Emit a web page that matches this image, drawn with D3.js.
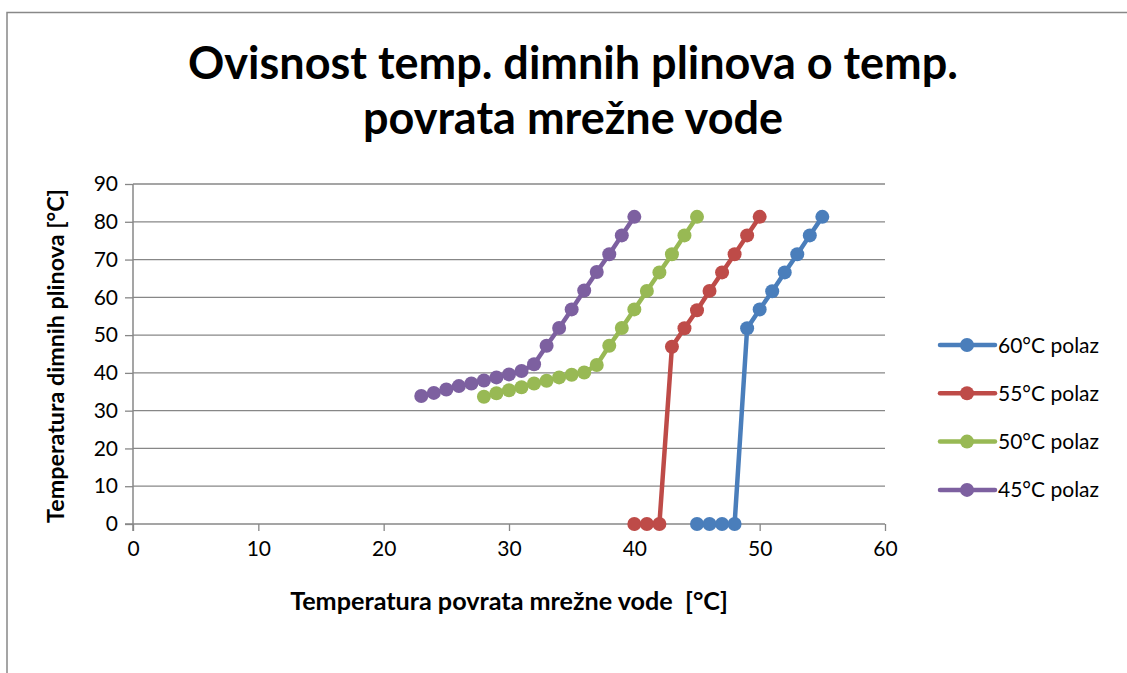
<!DOCTYPE html>
<html>
<head>
<meta charset="utf-8">
<script src="https://cdn.jsdelivr.net/npm/d3@7"></script>
<style>
  html, body { margin: 0; padding: 0; background: #fff; }
  svg { display: block; font-family: Lato, "Open Sans", sans-serif; }
  text { white-space: pre; }
</style>
</head>
<body>
<svg id="chart" width="1127" height="673"></svg>
<script>
// Return water temperature (x) and flue gas temperature (y) for each supply temperature
const x60 = [45, 46, 47, 48, 49, 50, 51, 52, 53, 54, 55];
const y60 = [0, 0, 0, 0, 51.8, 56.8, 61.6, 66.6, 71.4, 76.4, 81.3];

const x55 = [40, 41, 42, 43, 44, 45, 46, 47, 48, 49, 50];
const y55 = [0, 0, 0, 46.9, 51.8, 56.6, 61.7, 66.6, 71.4, 76.4, 81.3];

const x50 = [28, 29, 30, 31, 32, 33, 34, 35, 36, 37, 38, 39, 40, 41, 42, 43, 44, 45];
const y50 = [33.7, 34.6, 35.4, 36.2, 37.2, 37.9, 38.8, 39.5, 40.1, 42.1, 47.2, 51.9, 56.8, 61.7, 66.6, 71.4, 76.4, 81.3];

const x45 = [23, 24, 25, 26, 27, 28, 29, 30, 31, 32, 33, 34, 35, 36, 37, 38, 39, 40];
const y45 = [33.9, 34.7, 35.6, 36.5, 37.2, 38.0, 38.8, 39.6, 40.5, 42.3, 47.2, 51.9, 56.8, 61.8, 66.7, 71.4, 76.4, 81.3];

const seriesNames = ["60°C polaz", "55°C polaz", "50°C polaz", "45°C polaz"];
const seriesColors = ["#4A7EBB", "#BE4B48", "#98B954", "#7D60A0"];

const xTicks = [0, 10, 20, 30, 40, 50, 60];
const yTicks = [0, 10, 20, 30, 40, 50, 60, 70, 80, 90];

const titleLines = ["Ovisnost temp. dimnih plinova o temp.", "povrata mrežne vode"];
const xTitle = "Temperatura povrata mrežne vode  [°C]";
const yTitle = "Temperatura dimnih plinova [°C]";

const series = [
  { name: seriesNames[0], color: seriesColors[0], pts: x60.map((x, i) => [x, y60[i]]) },
  { name: seriesNames[1], color: seriesColors[1], pts: x55.map((x, i) => [x, y55[i]]) },
  { name: seriesNames[2], color: seriesColors[2], pts: x50.map((x, i) => [x, y50[i]]) },
  { name: seriesNames[3], color: seriesColors[3], pts: x45.map((x, i) => [x, y45[i]]) }
];

const svg = d3.select("#chart");
const gridColor = "#878787";

// Chart frame
svg.append("rect")
  .attr("x", 7).attr("y", 12.5)
  .attr("width", 1140).attr("height", 700)
  .attr("fill", "#fff")
  .attr("stroke", "#888").attr("stroke-width", 1.5);

const plot = { left: 133, right: 885, top: 184, bottom: 524 };
const x = d3.scaleLinear().domain([0, 60]).range([plot.left, plot.right]);
const y = d3.scaleLinear().domain([0, 90]).range([plot.bottom, plot.top]);

// Horizontal gridlines
svg.append("g")
  .selectAll("line")
  .data(yTicks.filter(t => t > 0))
  .join("line")
  .attr("x1", plot.left).attr("x2", plot.right)
  .attr("y1", d => y(d)).attr("y2", d => y(d))
  .attr("stroke", gridColor).attr("stroke-width", 1.3);

// Axes
const yAxis = svg.append("g")
  .attr("transform", `translate(${plot.left},0)`)
  .call(d3.axisLeft(y).tickValues(yTicks).tickSize(8).tickPadding(7).tickFormat(d3.format("d")));
const xAxis = svg.append("g")
  .attr("transform", `translate(0,${plot.bottom})`)
  .call(d3.axisBottom(x).tickValues(xTicks).tickSize(7).tickPadding(10).tickFormat(d3.format("d")));

[xAxis, yAxis].forEach(ax => {
  ax.select(".domain").attr("stroke", gridColor).attr("stroke-width", 1.5);
  ax.selectAll(".tick line").attr("stroke", gridColor).attr("stroke-width", 1.3);
  ax.selectAll(".tick text")
    .attr("fill", "#000")
    .style("font-family", "Lato, 'Open Sans', sans-serif")
    .style("font-size", "21px");
});
yAxis.select(".domain").attr("d", `M0,${plot.bottom + 7}V${plot.top}`);
xAxis.select(".domain").attr("d", `M${plot.left - 8},0H${plot.right}`);

// Series lines and markers
const line = d3.line().x(d => x(d[0])).y(d => y(d[1]));
series.forEach(s => {
  const g = svg.append("g");
  g.append("path")
    .attr("d", line(s.pts))
    .attr("fill", "none")
    .attr("stroke", s.color)
    .attr("stroke-width", 4.5)
    .attr("stroke-linejoin", "round")
    .attr("stroke-linecap", "round");
  g.selectAll("circle")
    .data(s.pts)
    .join("circle")
    .attr("cx", d => x(d[0]))
    .attr("cy", d => y(d[1]))
    .attr("r", 7)
    .attr("fill", s.color);
});

// Fit a text element's font size to a desired width
function fitText(sel, width) {
  const len = sel.node().getComputedTextLength();
  const fs = parseFloat(sel.style("font-size"));
  sel.style("font-size", (fs * width / len).toFixed(2) + "px");
}

// Title
const t1 = svg.append("text")
  .attr("x", 573).attr("y", 79)
  .attr("text-anchor", "middle")
  .style("font-weight", "bold").style("font-size", "40px")
  .text(titleLines[0]);
fitText(t1, 770);
const t2 = svg.append("text")
  .attr("x", 573).attr("y", 134)
  .attr("text-anchor", "middle")
  .style("font-weight", "bold").style("font-size", t1.style("font-size"))
  .text(titleLines[1]);

// Axis titles
const xt = svg.append("text")
  .attr("x", 509).attr("y", 610)
  .attr("text-anchor", "middle")
  .style("font-weight", "bold").style("font-size", "19px")
  .text(xTitle);
fitText(xt, 438);

const yt = svg.append("text")
  .attr("transform", `translate(64,356) rotate(-90)`)
  .attr("text-anchor", "middle")
  .style("font-weight", "bold").style("font-size", "19px")
  .text(yTitle);
fitText(yt, 334);

// Legend
const legend = svg.append("g");
series.forEach((s, i) => {
  const cy = 345 + i * 48.3;
  legend.append("line")
    .attr("x1", 940).attr("x2", 995)
    .attr("y1", cy).attr("y2", cy)
    .attr("stroke", s.color).attr("stroke-width", 4.5)
    .attr("stroke-linecap", "round");
  legend.append("circle")
    .attr("cx", 967).attr("cy", cy).attr("r", 7)
    .attr("fill", s.color);
  legend.append("text")
    .attr("x", 998).attr("y", cy + 7.5)
    .style("font-size", "21px")
    .text(s.name);
});
</script>
</body>
</html>
